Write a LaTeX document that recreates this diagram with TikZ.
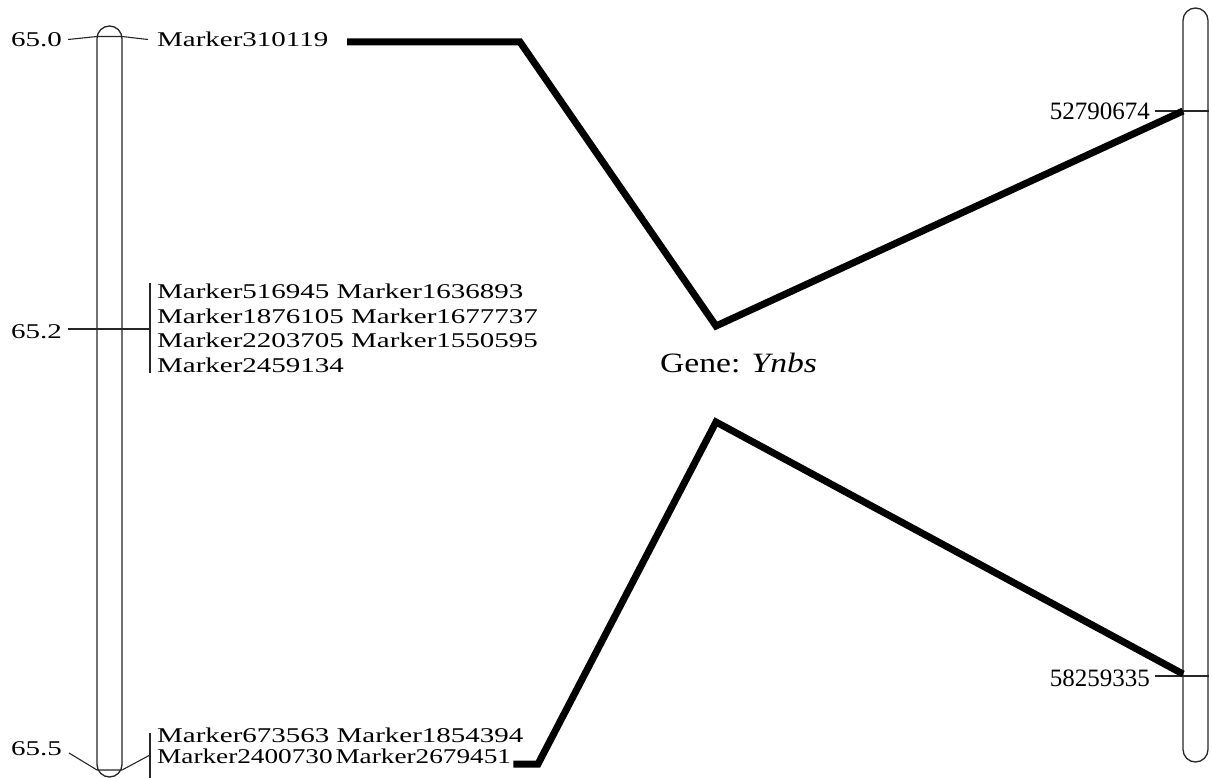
\documentclass[tikz,border=0pt]{standalone}
\usepackage{fontspec}
\setmainfont{Liberation Serif}
\newfontfamily\lblfont[FakeStretch=1.38]{Liberation Serif}
\newfontfamily\genefont[FakeStretch=1.2]{Liberation Serif}
\begin{document}
\begin{tikzpicture}[x=1pt,y=-1pt,
  chrom/.style={draw=black!85, line width=1.3pt, rounded corners=12.5pt, inner sep=0pt, minimum width=25pt},
  tick/.style={draw=black!85, line width=1.1pt},
  lbl/.style={inner sep=0pt, font=\lblfont\fontsize{21}{24}\selectfont},
  rlbl/.style={inner sep=0pt, font=\fontsize{25}{30}\selectfont, anchor=base east},
  link/.style={line width=7pt, line join=miter, black}]
\useasboundingbox (0,0) rectangle (1212,778);
\fill[white] (0,0) rectangle (1212,778);

% chromosomes
\node[chrom, minimum height=751pt] (L) at (109.5,401.5) {};
\node[chrom, minimum height=754pt] (R) at (1195.5,385) {};

% left scale labels
\node[lbl, anchor=base east] (p0) at (62,46.5) {65.0};
\node[lbl, anchor=base east] (p2) at (62,338.3) {65.2};
\node[lbl, anchor=base east] (p5) at (62,755) {65.5};

% left ticks
\draw[tick] (p0.east |- 0,39.5) ++(6,0) -- (97,36.5) -- (122,36.5) -- (148,39.5);
\draw[tick] (68,329) -- (150,329);
\draw[tick] (150,283) -- (150,373);
\draw[tick] (69,753) -- (97,770) -- (122,770) -- (150,755);
\draw[tick] (150,733) -- (150,778);

% marker labels
\node[lbl, anchor=base west] (m1) at (157,46.5) {Marker310119};
\node[lbl, anchor=base west] (m2) at (157,298.3) {Marker516945 Marker1636893};
\node[lbl, anchor=base west] (m3) at (157,323.1) {Marker1876105 Marker1677737};
\node[lbl, anchor=base west] (m4) at (157,347.9) {Marker2203705 Marker1550595};
\node[lbl, anchor=base west] (m5) at (157,372.7) {Marker2459134};
\node[lbl, anchor=base west] (m6) at (157,742) {Marker673563 Marker1854394};
\node[lbl, anchor=base west] (m7) at (157,763.5) {\scalebox{0.94}[1]{Marker2400730\kern3pt Marker2679451}};

% right ticks and labels
\coordinate (r1) at (1183,111);
\coordinate (r2) at (1183,674);
\draw[tick] (1155,111) -- (R.east |- r1);
\draw[tick] (1155,676) -- (R.east |- 0,676);
\node[rlbl] (n1) at (1150,120) {52790674};
\node[rlbl] (n2) at (1150,686.5) {58259335};

% gene label
\node[inner sep=0pt, anchor=base west, font=\genefont\fontsize{28}{32}\selectfont] (g) at (660,372) {Gene: \textit{Ynbs}};

% thick links
\coordinate (a0) at (347,42);
\coordinate (a1) at (520,42);
\coordinate (a2) at (716,326);
\draw[link] (a0) -- (a1) -- (a2) -- (r1);
\coordinate (b0) at (m7.base east) ;
\coordinate (b1) at (538,764);
\coordinate (b2) at (716,422);
\draw[link] (b0 |- b1) ++(2,0) -- (b1) -- (b2) -- (r2);
\end{tikzpicture}
\end{document}
